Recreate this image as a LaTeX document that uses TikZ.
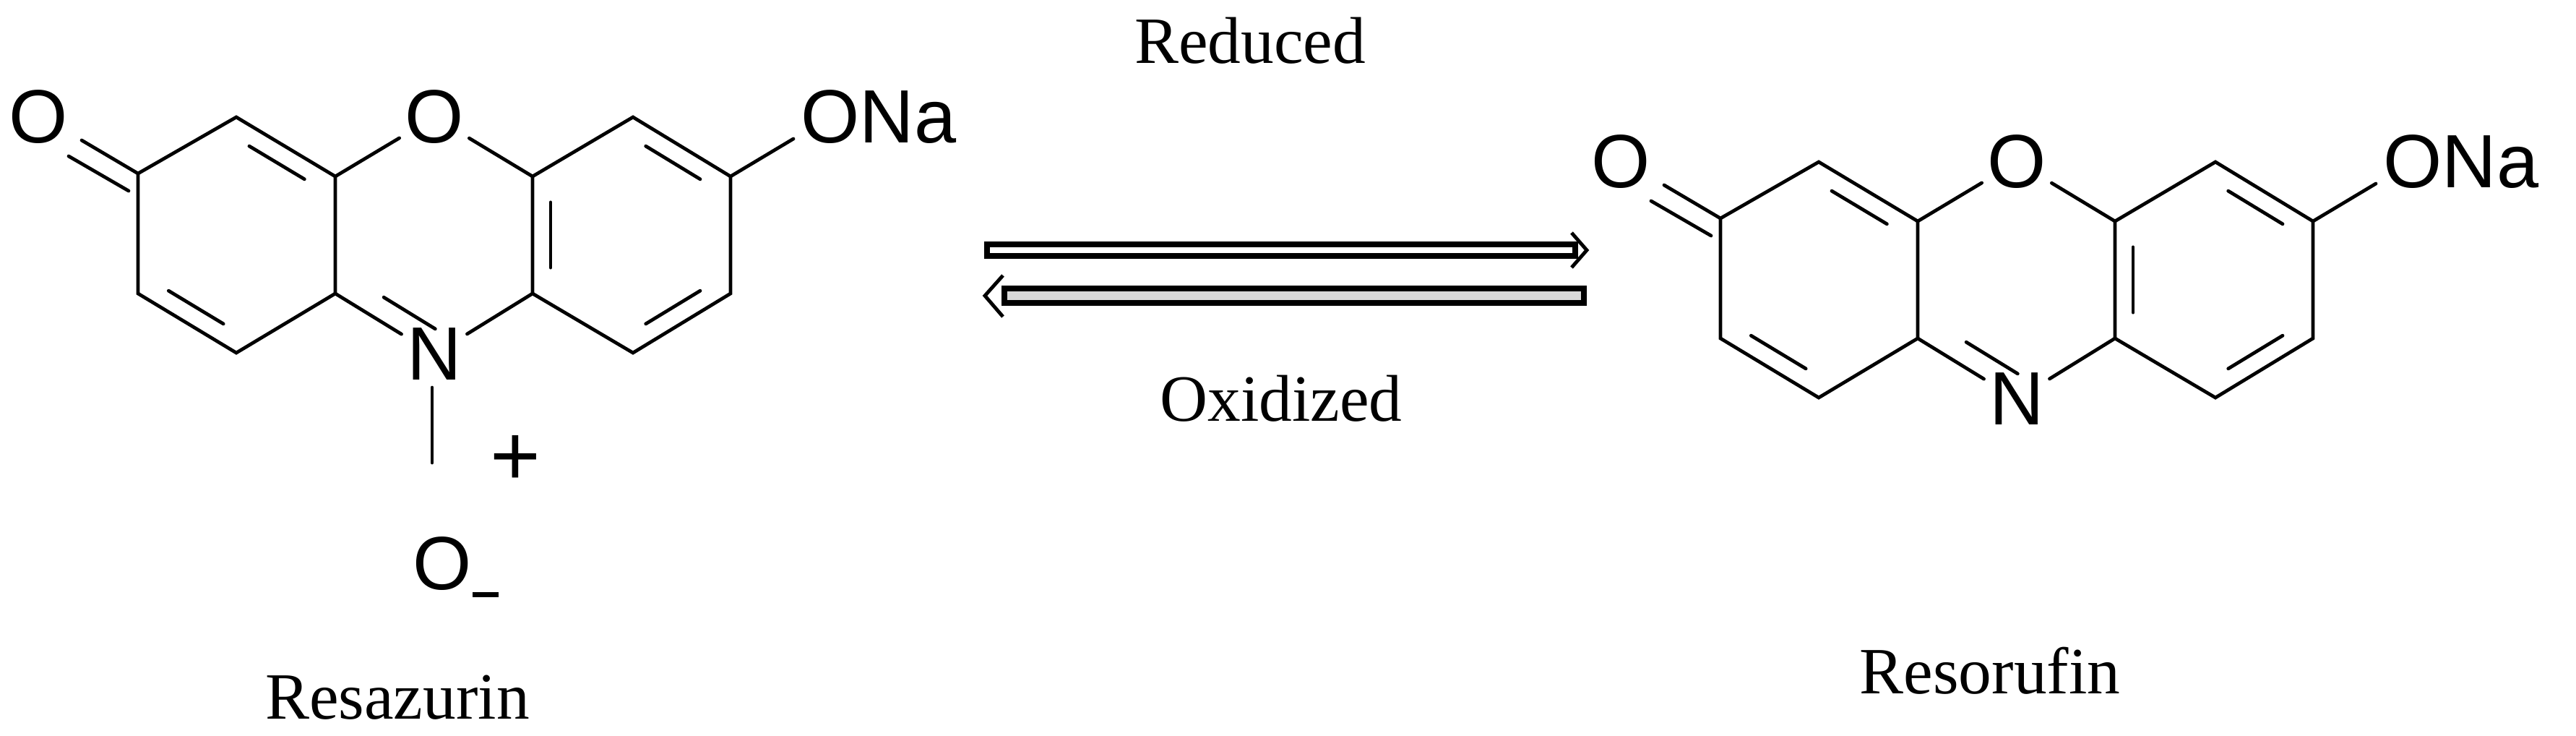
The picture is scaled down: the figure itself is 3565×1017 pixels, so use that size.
\documentclass[tikz,border=0pt]{standalone}
\usepackage{fontspec}
\setmainfont{Liberation Serif}
\setsansfont{Liberation Sans}
\usetikzlibrary{calc}
\newcommand{\atm}[1]{{\sffamily\fontsize{29.7}{32}\selectfont #1}}
\newcommand{\lbl}[1]{{\rmfamily\fontsize{26}{28}\selectfont #1}}
\newcommand{\dbl}[3]{\draw[bond] ($($(#1)!0.16!(#2)$)!0.18!(#3)$) -- ($($(#2)!0.16!(#1)$)!0.18!(#3)$);}
\begin{document}
\begin{tikzpicture}[x=0.01cm,y=-0.01cm,
  bond/.style={line width=1.35pt,line cap=round},
  atom/.style={inner sep=2pt},
  txt/.style={inner sep=0pt}]
\useasboundingbox (0,0) rectangle (3565,1017);
\foreach \dx/\dy/\p in {0/0/A,2190/62/B}{
\begin{scope}[shift={(\dx,\dy)}]
\coordinate (\p1) at (191,240);
\coordinate (\p2) at (327,162);
\coordinate (\p3) at (464,244);
\coordinate (\p4) at (464,406);
\coordinate (\p5) at (327,488);
\coordinate (\p6) at (191,406);
\coordinate (\p7) at (737,244);
\coordinate (\p8) at (876,162);
\coordinate (\p9) at (1011,244);
\coordinate (\p10) at (1011,406);
\coordinate (\p11) at (876,488);
\coordinate (\p12) at (737,406);
\coordinate (\p cl) at (327,325);
\coordinate (\p cm) at (601,325);
\coordinate (\p cr) at (876,325);
\node[atom] (\p Oc) at (53,162) {\atm{O}};
\node[atom] (\p Or) at (601,162) {\atm{O}};
\node[atom] (\p N) at (601,490) {\atm{N}};
\node[atom,anchor=west,inner sep=0pt] (\p ONa) at (1108,162) {\atm{ONa}};
\coordinate (\p Oe) at (1098,192);
\draw[bond] (\p1) -- (\p2) -- (\p3) -- (\p4) -- (\p5) -- (\p6) -- cycle;
\draw[bond] (\p7) -- (\p8) -- (\p9) -- (\p10) -- (\p11) -- (\p12) -- cycle;
\draw[bond] (\p3) -- (\p Or) -- (\p7);
\draw[bond] (\p4) -- (\p N) -- (\p12);
\draw[bond] (\p9) -- (\p Oe);
\dbl{\p2}{\p3}{\p cl}
\dbl{\p6}{\p5}{\p cl}
\dbl{\p8}{\p9}{\p cr}
\dbl{\p10}{\p11}{\p cr}
\dbl{\p7}{\p12}{\p cr}
\draw[bond] ($(\p4)!0.3!(\p N)+(26,-20)$) coordinate (\p na) -- ($(\p4)!0.82!(\p N)+(26,-20)$);
\draw[bond] (\p1) -- ++(-78,-46);
\draw[bond] ($(\p1)+(-13,24)$) -- ++(-83,-48);
\end{scope}}
% N-oxide on resazurin
\node[atom] (Om) at (612,780) {\atm{O}};
\draw[bond] (598,536) -- (598,640);
\draw[line width=2pt] (654,822) -- (690,822);
\node[txt] (plus) at (713,637) {\sffamily\fontsize{34}{36}\selectfont +};
% arrows
\coordinate (r1) at (1366,346);
\coordinate (r2) at (2180,346);
\draw[line width=2.1pt,fill=white] ($(r1)+(0,-8)$) rectangle ($(r2)+(0,8)$);
\draw[line width=1.4pt,line join=miter] (2175,322) -- (2196,346) -- (2175,370);
\coordinate (l1) at (1390,409);
\coordinate (l2) at (2192,409);
\draw[line width=2.1pt,fill=gray!30] ($(l1)+(0,-10)$) rectangle ($(l2)+(0,10)$);
\draw[line width=1.4pt,line join=miter] (1388,381) -- (1363,409) -- (1388,438);
\node[txt] (red) at (1730,56) {\lbl{Reduced}};
\node[txt] (ox) at (1773,551) {\lbl{Oxidized}};
\node[txt] (resa) at (550,965) {\lbl{Resazurin}};
\node[txt] (reso) at (2754,928) {\lbl{Resorufin}};
\end{tikzpicture}
\end{document}
